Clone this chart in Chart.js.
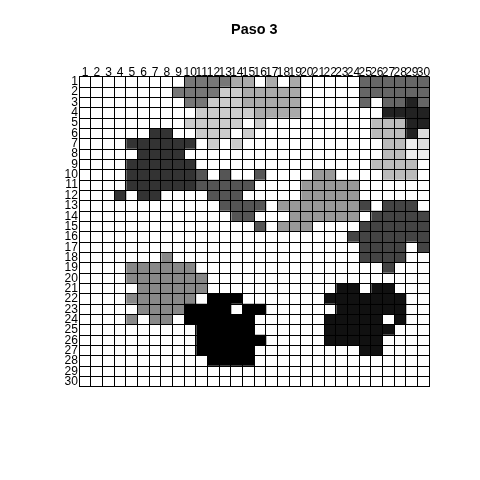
<!DOCTYPE html>
<html>
<head>
<meta charset="utf-8">
<script src="https://cdn.jsdelivr.net/npm/chart.js@4/dist/chart.umd.min.js"></script>
<style>
html,body{margin:0;padding:0;background:#ffffff;}
#wrap{width:480px;height:480px;}
</style>
</head>
<body>
<div id="wrap"><canvas id="c" width="480" height="480"></canvas></div>
<script>
const titleText = 'Paso 3';
const rowLabels = ['1','2','3','4','5','6','7','8','9','10','11','12','13','14','15','16','17','18','19','20','21','22','23','24','25','26','27','28','29','30'];
const colLabels = ['1','2','3','4','5','6','7','8','9','10','11','12','13','14','15','16','17','18','19','20','21','22','23','24','25','26','27','28','29','30'];
// one hex digit per cell = grey level (0 = black ... e = very light), 'f' = empty cell
const cellRows = [
  'fffffffff7777aafafafffff666666',
  'ffffffff7777ccaaaaafffff666666',
  'fffffffff77cccaaaaafffff6f6626',
  'ffffffffffcccccaaaafffffff2222',
  'fffffffffcccccfcfffffffffbbb22',
  'ffffff33ffcccfcffffffffffbbb2d',
  'ffff333333fcfcffffffffffffbbed',
  'fffff3333fffffffffffffffffbbee',
  'ffff333333fffffffffffffffbbbbf',
  'ffff3333335f5ff5ffff99ffffbbbf',
  'ffff33333355555ffff99999ffffff',
  'fff3f33ffff555fffff99999ffffff',
  'ffffffffffff5555f99999994f444f',
  'fffffffffffff55fff999999f44444',
  'fffffffffffffff5f999ffff444444',
  'fffffffffffffffffffffff4444444',
  'ffffffffffffffffffffffff4444f4',
  'fffffff8ffffffffffffffff4444ff',
  'ffff888888ffffffffffffffff4fff',
  'ffff8888888fffffffffffffffffff',
  'fffff888888fffffffffff11f11fff',
  'ffff888888f000fffffff1111111ff',
  'fffff88880000f00ffffff111111ff',
  'ffff8f88f000000ffffff11111f1ff',
  'ffffffffff00000ffffff111111fff',
  'ffffffffff000000fffff11111ffff',
  'ffffffffff00000fffffffff11ffff',
  'fffffffffff0000fffffffffffffff',
  'ffffffffffffffffffffffffffffff',
  'ffffffffffffffffffffffffffffff'
];
const cellSpan = 1;

Chart.defaults.font.family = "'Liberation Sans', Arial, Helvetica, sans-serif";
Chart.defaults.color = '#000000';

const datasets = colLabels.map((col, j) => ({
  label: col,
  data: rowLabels.map(() => cellSpan),
  backgroundColor: cellRows.map(r => '#' + r[j].repeat(3)),
  borderWidth: 0,
  barPercentage: 1,
  categoryPercentage: 1,
  stack: 'grid'
}));

new Chart(document.getElementById('c'), {
  type: 'bar',
  data: { labels: rowLabels, datasets: datasets },
  options: {
    indexAxis: 'y',
    responsive: false,
    animation: false,
    devicePixelRatio: 1,
    layout: { padding: { left: 0, right: 50.7, top: 0, bottom: 93.3 } },
    plugins: {
      legend: { display: false },
      tooltip: { enabled: false },
      title: {
        display: true,
        text: titleText,
        fullSize: false,
        color: '#000000',
        font: { size: 14.4, weight: 'bold', lineHeight: 1.2 },
        padding: { top: 21.5, bottom: 0 }
      }
    },
    scales: {
      x: {
        type: 'linear',
        stacked: true,
        min: 0,
        max: colLabels.length,
        position: 'bottom',
        ticks: { display: false, stepSize: 1 },
        grid: { color: '#000000', lineWidth: 1, drawTicks: false, z: 1 },
        border: { display: true, color: '#000000', z: 1 },
        afterFit: s => { s.height = 0; }
      },
      x2: {
        type: 'category',
        labels: colLabels,
        position: 'top',
        offset: true,
        grid: { display: false, drawTicks: false },
        border: { display: false },
        ticks: { autoSkip: false, maxRotation: 0, minRotation: 0, padding: -2.5, color: '#000000', font: { size: 12, lineHeight: 1 } },
        afterFit: s => { s.height = 37.9; }
      },
      y: {
        type: 'category',
        stacked: true,
        position: 'left',
        offset: true,
        grid: { offset: true, color: '#000000', lineWidth: 1, drawTicks: false, z: 1 },
        border: { display: true, color: '#000000', z: 1 },
        ticks: { autoSkip: false, padding: 1.5, color: '#000000', font: { size: 12, lineHeight: 1 } },
        afterFit: s => { s.width = 79.3; }
      }
    }
  }
});
</script>
</body>
</html>
